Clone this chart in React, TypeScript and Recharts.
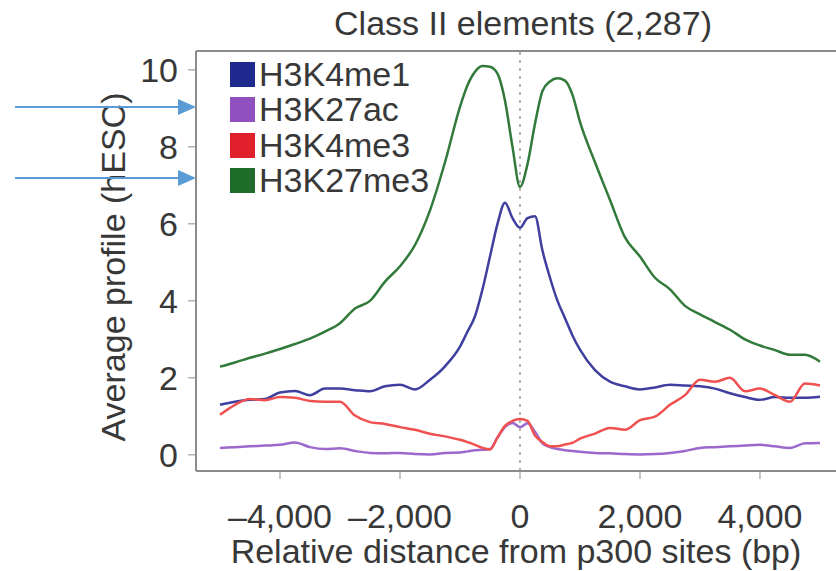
import {
  LineChart,
  Line,
  XAxis,
  YAxis,
  Legend,
  ReferenceLine,
} from "recharts";

// bp offsets from the p300 site
const positions = [
  -5000, -4750, -4500, -4250, -4000, -3750, -3500, -3250, -3000, -2750, -2500,
  -2250, -2000, -1750, -1500, -1250, -1000, -875, -750, -625, -500, -375, -250,
  -125, 0, 125, 250, 375, 500, 625, 750, 875, 1000, 1250, 1500, 1750, 2000,
  2250, 2500, 2750, 3000, 3250, 3500, 3750, 4000, 4250, 4500, 4750, 5000,
];

const h3k4me1 = [
  1.3, 1.38, 1.43, 1.45, 1.62, 1.66, 1.55, 1.72, 1.72, 1.68, 1.65, 1.78, 1.82,
  1.7, 1.95, 2.3, 2.81, 3.2, 3.6, 4.3, 5.15, 6.0, 6.55, 6.15, 5.9, 6.15, 6.2,
  5.3, 4.6, 4.0, 3.55, 3.1, 2.73, 2.2, 1.9, 1.78, 1.7, 1.75, 1.82, 1.8, 1.78,
  1.72, 1.6, 1.5, 1.43, 1.5, 1.48, 1.48, 1.51,
];

const h3k27ac = [
  0.18, 0.2, 0.22, 0.24, 0.26, 0.32, 0.2, 0.15, 0.17, 0.1, 0.05, 0.04, 0.05,
  0.02, 0.01, 0.05, 0.06, 0.09, 0.12, 0.13, 0.15, 0.45, 0.72, 0.83, 0.72, 0.82,
  0.6, 0.3, 0.2, 0.15, 0.12, 0.1, 0.08, 0.05, 0.04, 0.02, 0.01, 0.02, 0.05,
  0.1, 0.18, 0.2, 0.22, 0.24, 0.26, 0.22, 0.18, 0.3, 0.31,
];

const h3k4me3 = [
  1.04, 1.3, 1.45, 1.42, 1.5, 1.48, 1.4, 1.38, 1.38, 1.02, 0.85, 0.8, 0.72,
  0.65, 0.55, 0.48, 0.39, 0.33, 0.26, 0.18, 0.14, 0.45, 0.75, 0.88, 0.93, 0.88,
  0.5, 0.33, 0.22, 0.22, 0.27, 0.31, 0.42, 0.55, 0.7, 0.65, 0.9, 0.99, 1.3,
  1.55, 1.95, 1.9, 2.0, 1.65, 1.72, 1.55, 1.38, 1.85, 1.8,
];

const h3k27me3 = [
  2.29, 2.4, 2.52, 2.63, 2.75, 2.88, 3.02, 3.2, 3.42, 3.8, 4.0, 4.5, 4.9, 5.45,
  6.35, 7.6, 9.04, 9.6, 9.95, 10.1, 10.08, 9.9, 9.2, 8.0, 6.96, 7.55, 8.6,
  9.45, 9.7, 9.78, 9.72, 9.35, 8.65, 7.6, 6.62, 5.65, 5.15, 4.6, 4.3, 3.87,
  3.65, 3.45, 3.25, 3.0, 2.84, 2.72, 2.6, 2.6, 2.42,
];

const xTicks = [-4000, -2000, 0, 2000, 4000];
const yTicks = [0, 2, 4, 6, 8, 10];

const series = [
  { key: "h3k4me1", name: "H3K4me1", line: "#3f3f9f", swatch: "#1f2a8f" },
  { key: "h3k27ac", name: "H3K27ac", line: "#9c68cc", swatch: "#9050c0" },
  { key: "h3k4me3", name: "H3K4me3", line: "#f05050", swatch: "#e0202a" },
  { key: "h3k27me3", name: "H3K27me3", line: "#317a3a", swatch: "#1e6b2a" },
];

const data = positions.map((pos, i) => ({
  pos,
  h3k4me1: h3k4me1[i],
  h3k27ac: h3k27ac[i],
  h3k4me3: h3k4me3[i],
  h3k27me3: h3k27me3[i],
}));

const FONT = "'Liberation Sans', Arial, sans-serif";
const TEXT = "#383838";
const FRAME = "#8c8c8c";
const FS = 34;

const fmtX = (v: number) =>
  (v < 0 ? "\u2013" : "") + Math.abs(v).toLocaleString("en-US");

function LegendBox() {
  return (
    <div style={{ fontFamily: FONT, fontSize: FS, color: TEXT }}>
      {series.map((s) => (
        <div
          key={s.key}
          style={{ display: "flex", alignItems: "center", height: 35.3, lineHeight: "35px" }}
        >
          <span
            style={{
              display: "inline-block",
              width: 25,
              height: 25,
              background: s.swatch,
              marginRight: 4,
            }}
          />
          {s.name}
        </div>
      ))}
    </div>
  );
}

function Arrows() {
  const rows = [107, 178];
  return (
    <svg
      width={836}
      height={571}
      style={{ position: "absolute", left: 0, top: 0, pointerEvents: "none" }}
    >
      {rows.map((y) => (
        <g key={y}>
          <line x1={15} y1={y} x2={180} y2={y} stroke="#5b9bd5" strokeWidth={2} />
          <polygon points={`178,${y - 8} 196,${y} 178,${y + 8}`} fill="#5b9bd5" />
        </g>
      ))}
    </svg>
  );
}

export default function App() {
  return (
    <div
      style={{
        position: "absolute",
        left: 0,
        top: 0,
        width: 836,
        height: 571,
        background: "#fff",
        overflow: "hidden",
      }}
    >
      <LineChart
        width={836}
        height={571}
        data={data}
        margin={{ top: 0, right: 0, bottom: 0, left: 0 }}
      >
        <XAxis
          xAxisId="top"
          orientation="top"
          dataKey="pos"
          type="number"
          domain={[-5400, 5267]}
          height={51}
          tick={false}
          tickLine={false}
          axisLine={{ stroke: FRAME, strokeWidth: 2 }}
          label={() => (
            <text
              x={523}
              y={35}
              textAnchor="middle"
              fontFamily={FONT}
              fontSize={FS}
              fill={TEXT}
            >
              Class II elements (2,287)
            </text>
          )}
        />
        <XAxis
          dataKey="pos"
          type="number"
          domain={[-5400, 5267]}
          ticks={xTicks}
          tickFormatter={fmtX}
          height={100}
          tickSize={8}
          tickMargin={25}
          tick={{ fontSize: FS, fill: TEXT, fontFamily: FONT }}
          tickLine={{ stroke: FRAME }}
          axisLine={{ stroke: FRAME, strokeWidth: 2 }}
          label={() => (
            <text
              x={516}
              y={563}
              textAnchor="middle"
              fontFamily={FONT}
              fontSize={FS}
              fill={TEXT}
            >
              Relative distance from p300 sites (bp)
            </text>
          )}
        />
        <YAxis
          type="number"
          domain={[-0.42, 10.49]}
          ticks={yTicks}
          allowDataOverflow
          width={196}
          tickSize={8}
          tickMargin={10}
          tick={{ fontSize: FS, fill: TEXT, fontFamily: FONT }}
          tickLine={{ stroke: FRAME }}
          axisLine={{ stroke: FRAME, strokeWidth: 2 }}
          label={() => (
            <text
              x={125}
              y={267}
              transform="rotate(-90 125 267)"
              textAnchor="middle"
              fontFamily={FONT}
              fontSize={FS}
              fill={TEXT}
            >
              Average profile (hESC)
            </text>
          )}
        />
        <ReferenceLine x={0} stroke="#999" strokeDasharray="3 5" strokeWidth={1.5} />
        <Legend
          layout="vertical"
          align="center"
          verticalAlign="middle"
          content={() => <LegendBox />}
          wrapperStyle={{ left: 230, top: 57, width: 260, height: 145 }}
        />
        {series.map((s) => (
          <Line
            key={s.key}
            type="monotone"
            dataKey={s.key}
            name={s.name}
            stroke={s.line}
            strokeWidth={2.5}
            dot={false}
            activeDot={false}
            isAnimationActive={false}
          />
        ))}
      </LineChart>
      <Arrows />
    </div>
  );
}
